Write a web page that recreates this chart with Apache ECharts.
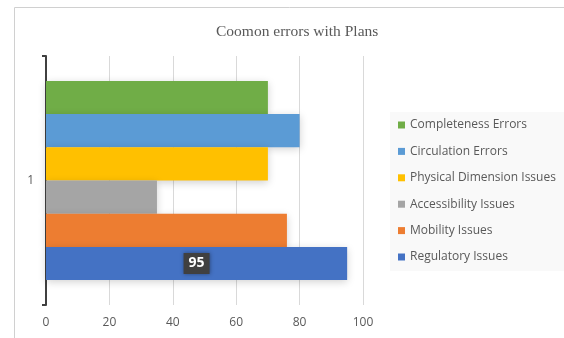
<!DOCTYPE html>
<html>
<head>
<meta charset="utf-8">
<script src="https://cdn.jsdelivr.net/npm/echarts@6/dist/echarts.min.js"></script>
<style>
  html, body { margin: 0; padding: 0; background: #fff; }
  #chart { width: 564px; height: 338px; }
</style>
</head>
<body>
<div id="chart"></div>
<script>
// categories on the y axis
const categories = ['1'];
// series, top to bottom
const seriesNames = ['Completeness Errors', 'Circulation Errors', 'Physical Dimension Issues',
  'Accessibility Issues', 'Mobility Issues', 'Regulatory Issues'];
const seriesValues = [70, 80, 70, 35, 76, 95];
const seriesColors = ['#70AD47', '#5B9BD5', '#FFC000', '#A5A5A5', '#ED7D31', '#4472C4'];
// x ticks
const xTicks = [0, 20, 40, 60, 80, 100];

const chart = echarts.init(document.getElementById('chart'));

const series = seriesNames.map((name, i) => ({
  name: name,
  type: 'bar',
  data: [seriesValues[i]],
  barGap: '0%',
  barCategoryGap: '20%',
  itemStyle: {
    color: seriesColors[i],
    shadowBlur: 8,
    shadowColor: 'rgba(0,0,0,0.18)',
    shadowOffsetY: 2
  },
  label: {
    // only the bottom bar carries its value box
    show: i === seriesNames.length - 1,
    position: 'inside',
    color: '#fff',
    fontWeight: 'bold',
    fontSize: 14,
    fontFamily: 'Open Sans',
    backgroundColor: '#404040',
    padding: [4, 5, 3, 5],
    shadowBlur: 4,
    shadowColor: 'rgba(0,0,0,0.4)'
  },
  emphasis: { disabled: true }
}));

const option = {
  animation: false,
  title: {
    text: 'Coomon errors with Plans',
    left: 211,
    top: 19,
    textStyle: {
      fontFamily: 'Liberation Serif',
      fontWeight: 'normal',
      fontSize: 15.5,
      color: '#595959'
    }
  },
  graphic: [{
    type: 'rect',
    shape: { x: 14.5, y: 7.5, width: 560, height: 340 },
    style: { fill: 'none', stroke: '#d0d0d0', lineWidth: 1 },
    z: -1
  }],
  legend: {
    orient: 'vertical',
    left: 390,
    top: 112,
    width: 172,
    data: seriesNames,
    backgroundColor: '#f9f9f9',
    padding: [7, 8, 8, 8],
    itemWidth: 7,
    itemHeight: 7,
    itemGap: 14.4,
    icon: 'rect',
    textStyle: { fontFamily: 'Open Sans', fontSize: 12, color: '#595959' }
  },
  grid: { left: 46, right: 201, top: 56, bottom: 33, containLabel: false },
  xAxis: {
    type: 'value',
    min: xTicks[0],
    max: xTicks[xTicks.length - 1],
    interval: 20,
    axisLine: { show: false },
    axisTick: { show: false },
    axisLabel: { color: '#595959', fontSize: 12, fontFamily: 'Open Sans', margin: 12 },
    splitLine: { lineStyle: { color: '#d9d9d9', width: 1 } }
  },
  yAxis: {
    type: 'category',
    data: categories,
    axisLine: { show: true, lineStyle: { color: '#404040', width: 2 } },
    axisTick: { show: true, length: 4, lineStyle: { color: '#404040', width: 2 } },
    axisLabel: { color: '#595959', fontSize: 12, fontFamily: 'Open Sans', margin: 12 }
  },
  series: series
};

chart.setOption(option);
</script>
</body>
</html>
